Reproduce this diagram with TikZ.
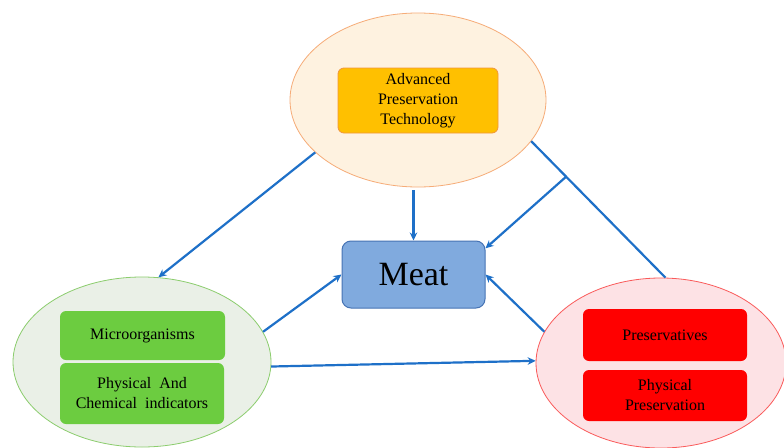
\documentclass[tikz,border=0pt]{standalone}
\usepackage{fontspec}
\setmainfont{Liberation Serif}
\newfontfamily\tnr{Liberation Serif}
\usetikzlibrary{shapes.geometric,arrows.meta}
\definecolor{arrowblue}{RGB}{30,112,200}
\definecolor{topfill}{RGB}{254,242,224}
\definecolor{topline}{RGB}{246,172,120}
\definecolor{orangebox}{RGB}{255,192,0}
\definecolor{orangeline}{RGB}{240,150,60}
\definecolor{leftfill}{RGB}{234,240,231}
\definecolor{leftline}{RGB}{140,205,110}
\definecolor{greenbox}{RGB}{108,204,64}
\definecolor{rightfill}{RGB}{253,226,229}
\definecolor{rightline}{RGB}{250,90,90}
\definecolor{redbox}{RGB}{255,0,0}
\definecolor{meatfill}{RGB}{128,170,222}
\definecolor{meatline}{RGB}{70,115,180}
\tikzset{
  oval/.style={ellipse, inner sep=0pt, line width=0.8pt},
  inbox/.style={rounded corners=6pt, align=center, inner sep=0pt},
  conn/.style={draw=arrowblue, line width=2.2pt},
  arr/.style={conn, -{Stealth[length=8pt,width=7.5pt]}},
}
\begin{document}
\begin{tikzpicture}[x=1pt,y=-1pt,font=\tnr\fontsize{16}{20}\selectfont]
\useasboundingbox[fill=white] (0,0) rectangle (784,447);
% ellipses
\node[oval, draw=topline, fill=topfill, minimum width=256pt, minimum height=174pt] (top) at (418,100) {};
\node[oval, draw=leftline, fill=leftfill, minimum width=258pt, minimum height=170pt] (left) at (142,362) {};
\node[oval, draw=rightline, fill=rightfill, minimum width=250pt, minimum height=170pt] (right) at (661,363) {};
% inner boxes
\node[inbox, draw=orangeline, line width=0.8pt, fill=orangebox, minimum width=160pt, minimum height=65pt] (apt) at (418,100.5) {Advanced\\Preservation\\Technology};
\node[inbox, fill=greenbox, minimum width=165pt, minimum height=49pt] (micro) at (142.5,335.5) {Microorganisms};
\node[inbox, fill=greenbox, minimum width=164pt, minimum height=61pt] (phys) at (142,393.5) {Physical~ And\\Chemical~ indicators};
\node[inbox, fill=redbox, minimum width=164pt, minimum height=52pt] (pres) at (665,335) {Preservatives};
\node[inbox, fill=redbox, minimum width=164pt, minimum height=51pt] (physp) at (665,395.5) {Physical\\Preservation};
% meat
\node[draw=meatline, line width=1pt, fill=meatfill, rounded corners=9pt, minimum width=143pt, minimum height=67pt, inner sep=0pt, font=\tnr\fontsize{34}{36}\selectfont] (meat) at (413.5,274.5) {Meat};
% connectors
\draw[arr] (top.207) -- (left.79);
\draw[arr, shorten <=3pt] (top.south -| meat.north) -- (meat.north);
\draw[conn] (top.-20) -- coordinate[pos=0.26] (br) (right.87);
\draw[arr] (br) -- (meat.20);
\draw[arr] (left.14.5) -- (meat.west);
\draw[arr] (right.165) -- (meat.east);
\draw[arr] (left.-2) -- (right.179);
\end{tikzpicture}
\end{document}
